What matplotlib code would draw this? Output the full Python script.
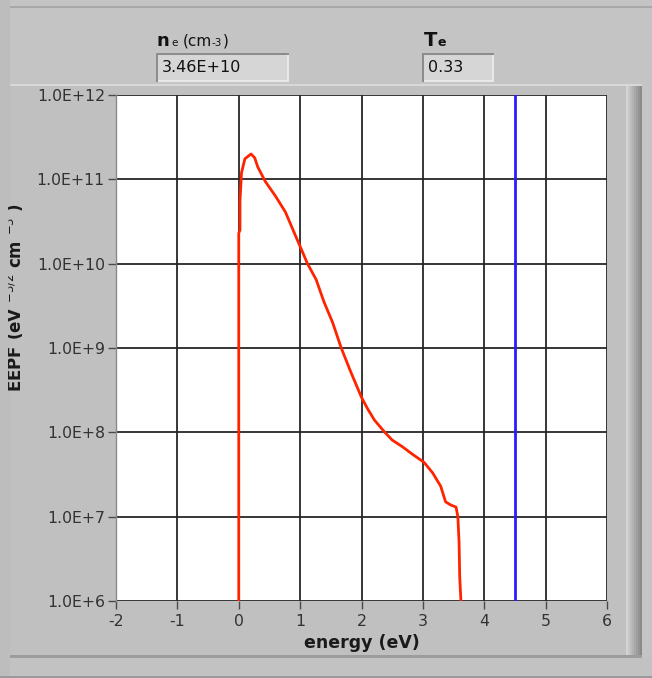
import matplotlib
matplotlib.use("Agg")
import matplotlib.pyplot as plt
from matplotlib.patches import Rectangle

# EEPF curve (energy in eV, EEPF in eV^-3/2 cm^-3)
energy = [0.0, 0.0, 0.02, 0.02, 0.045, 0.1, 0.2, 0.26, 0.31, 0.43, 0.6, 0.76,
          0.93, 1.0, 1.12, 1.26, 1.39, 1.53, 1.67, 1.83, 2.0, 2.1, 2.21, 2.38,
          2.5, 2.66, 2.83, 3.02, 3.16, 3.29, 3.37, 3.45, 3.54, 3.57, 3.59,
          3.60, 3.62]
eepf = [1.0e6, 2.3e10, 2.5e10, 5.5e10, 1.2e11, 1.75e11, 2.0e11, 1.8e11,
        1.4e11, 9.5e10, 6.3e10, 4.1e10, 2.1e10, 1.6e10, 1.0e10, 6.5e9, 3.5e9,
        2.0e9, 1.0e9, 5.1e8, 2.6e8, 1.9e8, 1.4e8, 1.0e8, 8.1e7, 6.8e7, 5.5e7,
        4.4e7, 3.3e7, 2.3e7, 1.5e7, 1.38e7, 1.3e7, 1.0e7, 4.9e6, 1.95e6, 1.0e6]

# vertical cursor
cursor_energy = 4.5

# indicator values
ne_value = "3.46E+10"
te_value = "0.33"

xticks = [-2, -1, 0, 1, 2, 3, 4, 5, 6]
xtick_labels = ["-2", "-1", "0", "1", "2", "3", "4", "5", "6"]
yticks = [1e6, 1e7, 1e8, 1e9, 1e10, 1e11, 1e12]
ytick_labels = ["1.0E+6", "1.0E+7", "1.0E+8", "1.0E+9", "1.0E+10",
                "1.0E+11", "1.0E+12"]

W, H = 652, 678
fig = plt.figure(figsize=(W / 100, H / 100), dpi=100)
fig.patch.set_facecolor("#c4c4c4")
plt.rcParams["font.family"] = ["DejaVu Sans"]


def fx(px):
    return px / W


def fy(py):
    return 1 - py / H


def prect(x0, y0, x1, y1, color, z=0):
    r = Rectangle((fx(x0), fy(y1)), (x1 - x0) / W, (y1 - y0) / H,
                  transform=fig.transFigure, facecolor=color,
                  edgecolor="none", zorder=z)
    fig.patches.append(r)
    return r


# panel frame
prect(0, 0, 10, H, "#bdbdbd", z=0)
prect(10, 6, W, 8, "#a8a8a8", z=1)
prect(10, 86, 628, 656, "#c0c0c0", z=1)
prect(10, 84, 642, 86, "#d8d8d8", z=1)
# raised bar at right
shades = ["#d4d4d4", "#c8c8c8", "#bcbcbc", "#b2b2b2", "#a8a8a8", "#9e9e9e",
          "#949494", "#8a8a8a"]
for i, c in enumerate(shades):
    prect(626 + i * 2, 86, 626 + (i + 1) * 2, 658, c, z=1)
prect(10, 655, 642, 658, "#9c9c9c", z=1)
prect(10, 658, W, 676, "#c2c2c2", z=1)
prect(0, 676, W, H, "#9a9a9a", z=1)

# plot area
ax = fig.add_axes([fx(116), fy(601), (607 - 116) / W, (601 - 95) / H])
ax.set_zorder(3)
ax.set_facecolor("white")
ax.set_yscale("log")
ax.set_xlim(-2, 6)
ax.set_ylim(1e6, 1e12)

for s in ["top", "right", "bottom"]:
    ax.spines[s].set_visible(False)
ax.spines["left"].set_color("#8a8a8a")
ax.spines["left"].set_linewidth(1.0)

ax.set_xticks(xticks)
ax.set_xticklabels(xtick_labels)
ax.set_yticks(yticks)
ax.set_yticklabels(ytick_labels)
ax.yaxis.set_minor_locator(matplotlib.ticker.NullLocator())
ax.tick_params(axis="both", direction="out", length=6, width=1.0,
               color="#4a4a4a", labelcolor="#333333", labelsize=11.3, pad=2)
ax.tick_params(axis="x", pad=3)

ax.grid(True, which="major", color="#262626", linewidth=1.3)
ax.set_axisbelow(True)

ax.axvline(cursor_energy, color="#2a1cff", linewidth=2.0, zorder=3)
ax.plot(energy, eepf, color="#ff2400", linewidth=2.0, zorder=4,
        solid_joinstyle="round")

ax.set_xlabel("energy (eV)", fontsize=12.5, fontweight="bold",
              color="#1a1a1a", labelpad=4)

# y-axis title, clipped at the panel edge
fig.text(fx(15), fy(298), "EEPF (eV $^{-3/2}$ cm $^{-3}$ )", rotation=90,
         ha="center", va="center", fontsize=12, fontweight="bold",
         color="#1a1a1a", zorder=2)
prect(0, 86, 8, 660, "#bdbdbd", z=5)

# indicator labels
fig.text(fx(157), fy(46), "n", fontsize=13, fontweight="bold",
         color="#111111", va="baseline", ha="left")
fig.text(fx(171), fy(46), "e", fontsize=7.5, color="#111111",
         va="baseline", ha="left")
fig.text(fx(183), fy(46), "(cm", fontsize=11, color="#111111",
         va="baseline", ha="left")
fig.text(fx(211), fy(46), "-3", fontsize=7.5, color="#111111",
         va="baseline", ha="left")
fig.text(fx(223), fy(46), ")", fontsize=11, color="#111111",
         va="baseline", ha="left")

fig.text(fx(424), fy(46), "T", fontsize=14, fontweight="bold",
         color="#111111", va="baseline", ha="left")
fig.text(fx(438), fy(46), "e", fontsize=9, fontweight="bold",
         color="#111111", va="baseline", ha="left")


def indicator(x0, x1, text):
    prect(x0 - 2, 53, x0, 82, "#8c8c8c", z=2)
    prect(x0 - 2, 53, x1 + 2, 55, "#8c8c8c", z=2)
    prect(x1, 55, x1 + 2, 82, "#e8e8e8", z=2)
    prect(x0, 80, x1 + 2, 82, "#e8e8e8", z=2)
    prect(x0, 55, x1, 80, "#d6d6d6", z=2)
    fig.text(fx(x0 + 4), fy(68), text, fontsize=11.5, color="#111111",
             va="center", ha="left", zorder=3)


indicator(158, 287, ne_value)
indicator(424, 492, te_value)

fig.savefig("out.png", dpi=100, facecolor=fig.get_facecolor())
